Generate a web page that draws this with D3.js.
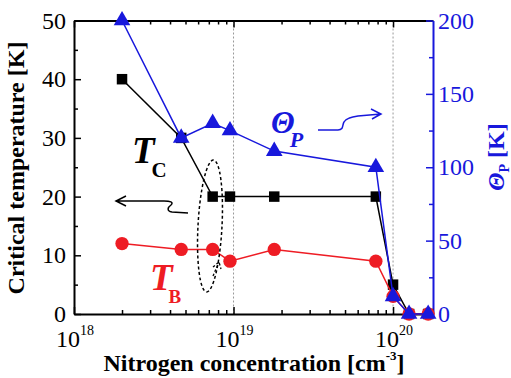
<!DOCTYPE html>
<html>
<head>
<meta charset="utf-8">
<script src="https://cdn.jsdelivr.net/npm/d3@7"></script>
</head>
<body style="margin:0">
<script>
// nitrogen concentration [cm^-3]
const conc = [2.0e18, 4.7e18, 7.4e18, 9.5e18, 1.8e19, 7.8e19, 1.0e20, 1.26e20, 1.66e20];
// critical temperatures [K]
const tcVals = [40, 30, 20, 20, 20, 20, 5, 0, 0];
const tbVals = [12, 11, 11, 9, 11, 9, 3, 0, 0];
// paramagnetic Curie temperature [K] (right axis)
const thetaVals = [200, 120, 130, 125, 111, 100, 12, 0, 0];

const leftTicks = [0, 10, 20, 30, 40, 50];
const leftMinor = [5, 15, 25, 35, 45];
const rightTicks = [0, 50, 100, 150, 200];
const rightMinor = [25, 75, 125, 175];
const xMajor = [1e18, 1e19, 1e20];
const xMajorExp = ["18", "19", "20"];
const xMinor = [2e18, 3e18, 4e18, 5e18, 6e18, 7e18, 8e18, 9e18,
                2e19, 3e19, 4e19, 5e19, 6e19, 7e19, 8e19, 9e19];
const guideLines = [1e19, 1e20];

const W = 511, H = 378;
const red = "#ee1c24", blue = "#1818dc";
const FONT = "Liberation Serif";

const svg = d3.select("body").append("svg")
    .attr("width", W).attr("height", H)
    .style("display", "block");

// scales
const x = d3.scaleLog().domain([1e18, 1.78e20]).range([74, 433]);
const yL = d3.scaleLinear().domain([0, 50]).range([314, 20.5]);
const yR = d3.scaleLinear().domain([0, 200]).range([314, 20.5]);

// dotted guides
svg.selectAll(".guide").data(guideLines).enter().append("line")
    .attr("x1", d => x(d)).attr("x2", d => x(d))
    .attr("y1", yL(50)).attr("y2", yL(0))
    .attr("stroke", "#999").attr("stroke-width", 1)
    .attr("stroke-dasharray", "2,2");

// axes
function styleAxis(g, color) {
    g.selectAll("path.domain").attr("stroke", color).attr("stroke-width", 2);
    g.selectAll(".tick line").attr("stroke", color).attr("stroke-width", 1.5);
    g.selectAll(".tick text").attr("fill", color)
        .style("font-family", FONT).style("font-size", "24px");
}

const gLeft = svg.append("g").attr("transform", `translate(${x.range()[0]},0)`)
    .call(d3.axisLeft(yL).tickValues(leftTicks).tickSize(-7).tickSizeOuter(0).tickPadding(8));
styleAxis(gLeft, "#000");
svg.append("g").attr("transform", `translate(${x.range()[0]},0)`)
    .call(d3.axisLeft(yL).tickValues(leftMinor).tickSize(-4).tickFormat(""))
    .call(g => { g.select(".domain").remove(); styleAxis(g, "#000"); });

const gBottom = svg.append("g").attr("transform", `translate(0,${yL(0)})`)
    .call(d3.axisBottom(x).tickValues(xMajor).tickSize(-7).tickSizeOuter(0).tickFormat(""));
styleAxis(gBottom, "#000");
svg.append("g").attr("transform", `translate(0,${yL(0)})`)
    .call(d3.axisBottom(x).tickValues(xMinor).tickSize(-4).tickFormat(""))
    .call(g => { g.select(".domain").remove(); styleAxis(g, "#000"); });

const gTop = svg.append("g").attr("transform", `translate(0,${yL(50)})`)
    .call(d3.axisTop(x).tickValues(xMajor).tickSize(-7).tickSizeOuter(0).tickFormat(""));
styleAxis(gTop, "#000");
svg.append("g").attr("transform", `translate(0,${yL(50)})`)
    .call(d3.axisTop(x).tickValues(xMinor).tickSize(-4).tickFormat(""))
    .call(g => { g.select(".domain").remove(); styleAxis(g, "#000"); });

const gRight = svg.append("g").attr("transform", `translate(${x.range()[1]},0)`)
    .call(d3.axisRight(yR).tickValues(rightTicks).tickSize(-7).tickSizeOuter(0).tickPadding(5));
styleAxis(gRight, blue);
svg.append("g").attr("transform", `translate(${x.range()[1]},0)`)
    .call(d3.axisRight(yR).tickValues(rightMinor).tickSize(-4).tickFormat(""))
    .call(g => { g.select(".domain").remove(); styleAxis(g, blue); });

// helper for plain texts
function label(xp, yp, size, weight) {
    return svg.append("text")
        .attr("x", xp).attr("y", yp)
        .style("font-family", FONT)
        .style("font-size", size + "px")
        .style("font-weight", weight || "normal");
}

// x tick labels 10^n
xMajor.forEach((v, i) => {
    const t = label(x(v) + 1, 347, 24).attr("text-anchor", "middle");
    t.append("tspan").text("10");
    t.append("tspan").style("font-size", "14px").attr("dy", -12).text(xMajorExp[i]);
});

// axis titles
const xt = label(254, 371, 24, "bold").attr("text-anchor", "middle");
xt.append("tspan").text("Nitrogen concentration [cm");
xt.append("tspan").style("font-size", "13px").attr("dy", -11).text("-3");
xt.append("tspan").attr("dy", 11).text("]");

label(0, 0, 24, "bold")
    .attr("transform", "translate(24,168) rotate(-90)")
    .attr("text-anchor", "middle")
    .text("Critical temperature [K]");

const rt = label(0, 0, 24, "bold")
    .attr("transform", "translate(504,157) rotate(-90)")
    .attr("text-anchor", "middle")
    .attr("fill", blue);
rt.append("tspan").style("font-style", "italic").text("Θ");
rt.append("tspan").style("font-size", "14px").attr("dy", 5).text("P");
rt.append("tspan").attr("dy", -5).text(" [K]");

// series
const rows = conc.map((c, i) => ({c, tc: tcVals[i], tb: tbVals[i], th: thetaVals[i]}));

function drawSeries(key, yScale, color, symbol, size) {
    svg.append("path").datum(rows)
        .attr("fill", "none").attr("stroke", color).attr("stroke-width", 1.5)
        .attr("d", d3.line().x(d => x(d.c)).y(d => yScale(d[key])));
    svg.selectAll(".m-" + key).data(rows).enter().append("path")
        .attr("class", "m-" + key)
        .attr("transform", d => `translate(${x(d.c)},${yScale(d[key])})`)
        .attr("d", d3.symbol().type(symbol).size(size))
        .attr("fill", color);
}
drawSeries("tc", yL, "#000", d3.symbolSquare, 110);
drawSeries("tb", yL, red, d3.symbolCircle, 140);
drawSeries("th", yR, blue, d3.symbolTriangle, 120);

// annotations
const tcLab = label(132, 163, 37, "bold");
tcLab.append("tspan").style("font-style", "italic").text("T");
tcLab.append("tspan").style("font-size", "21px").attr("dx", -3).attr("dy", 14).text("C");

const tbLab = label(150, 290, 37, "bold").attr("fill", red);
tbLab.append("tspan").style("font-style", "italic").text("T");
tbLab.append("tspan").style("font-size", "19px").attr("dx", -4).attr("dy", 13).text("B");

const thLab = label(271, 133, 31, "bold").attr("fill", blue);
thLab.append("tspan").style("font-style", "italic").text("Θ");
thLab.append("tspan").style("font-size", "22px").style("font-style", "italic")
    .attr("dx", -5).attr("dy", 14).text("P");

// wiggly arrows
svg.append("path")
    .attr("d", "M188,213 L172,212 C166,211 168,207 171,205 C174,202 170,201 164,201 L116,201 M126,196 L116,201 L126,206")
    .attr("fill", "none").attr("stroke", "#000").attr("stroke-width", 1.5);
svg.append("path")
    .attr("d", "M318,130 L338,130 C344,130 342,125 344,122 C346,118 352,117 358,116 L381,114 M371,109 L381,114 L372,119")
    .attr("fill", "none").attr("stroke", blue).attr("stroke-width", 1.5);

// dashed ellipse and small arrow
svg.append("ellipse")
    .attr("transform", "translate(210,226) rotate(3)")
    .attr("rx", 12).attr("ry", 66)
    .attr("fill", "none").attr("stroke", "#000").attr("stroke-width", 1.5)
    .attr("stroke-dasharray", "3,2.5");
svg.append("path")
    .attr("d", "M213,276 L219,262 M213,267 L219,262 L221,269")
    .attr("fill", "none").attr("stroke", "#000").attr("stroke-width", 1.3)
    .attr("stroke-dasharray", "2.5,2");
</script>
</body>
</html>
